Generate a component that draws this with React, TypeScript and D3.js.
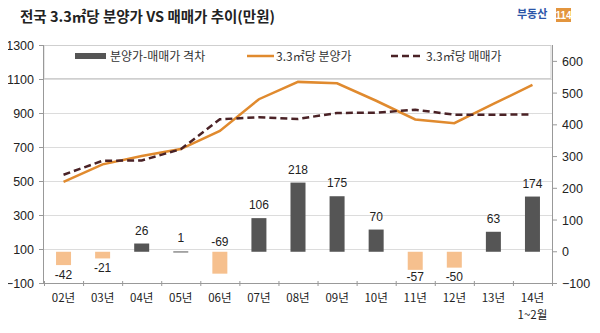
import React from "react";
import * as d3 from "d3";

const categories = ["02년", "03년", "04년", "05년", "06년", "07년", "08년", "09년", "10년", "11년", "12년", "13년", "14년"];
const gapValues = [-42, -21, 26, 1, -69, 106, 218, 175, 70, -57, -50, 63, 174];
const salePrice = [498, 601, 650, 691, 797, 984, 1086, 1078, 975, 865, 843, 956, 1068];
const tradePrice = [540, 622, 624, 690, 866, 878, 868, 903, 905, 922, 893, 893, 894];
const leftTicks = [-100, 100, 300, 500, 700, 900, 1100, 1300];
const rightTicks = [-100, 0, 100, 200, 300, 400, 500, 600];
const gridTicks = [100, 300, 500, 700, 900, 1100];

const W = 600;
const H = 333;
const FONT = "'Liberation Sans', Arial, 'Noto Sans CJK KR', sans-serif";
const KFONT = "'Noto Sans CJK KR', 'Liberation Sans', sans-serif";

export default function App() {
  const x = d3.scaleBand<string>().domain(categories).range([44, 552]).padding(0);
  const yL = d3.scaleLinear().domain([-100, 1300]).range([283.5, 45.5]);
  const yR = d3.scaleLinear().domain([-100, 650]).range([283.5, 45.5]);
  const cx = (c: string) => (x(c) ?? 0) + x.bandwidth() / 2;
  const barW = 15;

  const line = d3
    .line<number>()
    .x((_, i) => cx(categories[i]))
    .y((d) => yL(d));

  const fmt = (v: number) => (v < 0 ? "\u2212" + Math.abs(v) : String(v));

  return (
    <div style={{ margin: -8 }}>
      <svg width={W} height={H} style={{ display: "block", background: "#fff" }}>
        {/* outer frame */}
        <line x1={0} y1={327.5} x2={597} y2={327.5} stroke="#aaa" />
        <line x1={596.5} y1={0} x2={596.5} y2={328} stroke="#aaa" />

        {/* title */}
        <text x={20} y={22} fontFamily={KFONT} fontWeight={700} fontSize={14.5} fill="#222">
          전국 3.3㎡당 분양가 VS 매매가 추이(만원)
        </text>

        {/* logo */}
        <text x={517} y={18} fontFamily={KFONT} fontWeight={700} fontSize={11} fill="#2b55a8">
          부동산
        </text>
        <rect x={556} y={7} width={15} height={15} fill="#e3953e" />
        <text x={563.5} y={19} textAnchor="middle" fontFamily={FONT} fontWeight={700} fontSize={10} fill="#fff">
          114
        </text>

        {/* gridlines */}
        {gridTicks.map((t) => (
          <line key={t} x1={44} x2={552} y1={yL(t)} y2={yL(t)} stroke="#dcdcdc" strokeWidth={1} />
        ))}

        {/* legend box */}
        <rect x={44} y={45.5} width={507} height={33} fill="#fff" stroke="#cfcfcf" />
        <rect x={75} y={53} width={31} height={6} fill="#555" />
        <text x={110} y={61} fontFamily={KFONT} fontSize={12} fill="#333">
          분양가-매매가 격차
        </text>
        <line x1={247} x2={274} y1={56} y2={56} stroke="#e08a2e" strokeWidth={2.5} />
        <text x={276} y={61} fontFamily={KFONT} fontSize={12} fill="#333">
          3.3㎡당 분양가
        </text>
        <line x1={391} x2={421} y1={56} y2={56} stroke="#4a2226" strokeWidth={2.5} strokeDasharray="7,4" />
        <text x={426} y={61} fontFamily={KFONT} fontSize={12} fill="#333">
          3.3㎡당 매매가
        </text>

        {/* axes */}
        <line x1={43.5} x2={43.5} y1={45} y2={284} stroke="#999" />
        <line x1={552.5} x2={552.5} y1={45} y2={284} stroke="#999" />
        <line x1={43.5} x2={552.5} y1={283.5} y2={283.5} stroke="#999" />
        {leftTicks.map((t) => (
          <g key={"l" + t}>
            <line x1={39} x2={44} y1={yL(t)} y2={yL(t)} stroke="#999" />
            <text x={34} y={yL(t) + 4.5} textAnchor="end" fontFamily={FONT} fontSize={12.5} fill="#222">
              {fmt(t)}
            </text>
          </g>
        ))}
        {rightTicks.map((t) => (
          <g key={"r" + t}>
            <line x1={552} x2={557} y1={yR(t)} y2={yR(t)} stroke="#999" />
            <text x={562} y={yR(t) + 4.5} textAnchor="start" fontFamily={FONT} fontSize={12.5} fill="#222">
              {fmt(t)}
            </text>
          </g>
        ))}
        {categories.map((c) => (
          <line key={"xt" + c} x1={x(c)! + 0.5} x2={x(c)! + 0.5} y1={281} y2={286} stroke="#999" />
        ))}
        <line x1={552.5} x2={552.5} y1={281} y2={286} stroke="#999" />
        {categories.map((c) => (
          <text key={"xl" + c} x={cx(c)} y={302} textAnchor="middle" fontFamily={KFONT} fontSize={11.5} fill="#222">
            {c}
          </text>
        ))}
        <text x={cx("14년")} y={319} textAnchor="middle" fontFamily={KFONT} fontSize={11.5} fill="#222">
          1~2월
        </text>

        {/* bars */}
        {gapValues.map((v, i) => {
          const c = categories[i];
          const y0 = yR(0);
          const y1 = yR(v);
          const top = Math.min(y0, y1);
          const h = Math.max(Math.abs(y1 - y0), 1);
          // labels go above positive bars, below negative ones unless too close to the axis
          const below = v < 0 && y1 + 12 < yR(-100);
          const ly = v >= 0 ? y1 - 9 : below ? Math.min(y1 + 14, 281) : y0 - 6;
          return (
            <g key={"b" + c}>
              <rect x={cx(c) - barW / 2} y={top} width={barW} height={h} fill={v >= 0 ? "#555555" : "#f6c08e"} />
              <text x={cx(c)} y={ly} textAnchor="middle" fontFamily={FONT} fontSize={12} fill="#222">
                {v < 0 ? "-" + Math.abs(v) : v}
              </text>
            </g>
          );
        })}

        {/* lines */}
        <path d={line(salePrice) ?? ""} fill="none" stroke="#e08a2e" strokeWidth={2.5} />
        <path d={line(tradePrice) ?? ""} fill="none" stroke="#4a2226" strokeWidth={2.5} strokeDasharray="7,4" />
      </svg>
    </div>
  );
}
